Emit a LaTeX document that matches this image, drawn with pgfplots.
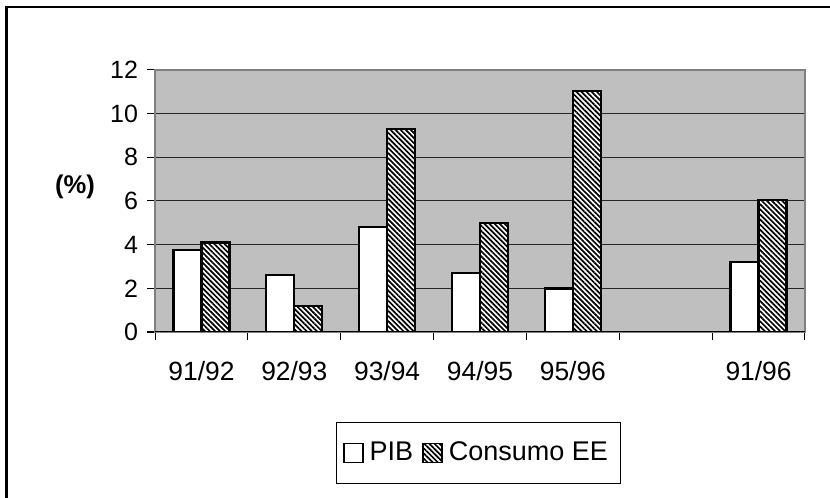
\documentclass[border=0pt]{standalone}
\usepackage{fontspec}
\setmainfont{Liberation Sans}
\usepackage{pgfplots}
\pgfplotsset{compat=1.18}
\usetikzlibrary{patterns.meta}

\newcommand\ytickfont{\fontsize{12.5pt}{14pt}\selectfont}
\newcommand\xtickfont{\fontsize{13.2pt}{15pt}\selectfont}
\newcommand\legfont{\fontsize{13.5pt}{16pt}\selectfont}
\newcommand\labfont{\bfseries\fontsize{12.8pt}{15pt}\selectfont}

% annual growth rates (%), category 5 is left empty
\pgfplotstableread{
idx pib cee
0 3.75 4.1
1 2.6 1.2
2 4.8 9.3
3 2.7 5.0
4 2.0 11.05
6 3.2 6.05
}\growth

\tikzset{
  hatchbar/.style={fill=white, postaction={pattern={Lines[angle=-45,distance=1.8pt,line width=0.85pt]}, pattern color=black}},
}

\begin{document}
\begin{tikzpicture}
\useasboundingbox (0,0) rectangle (415pt,249pt);
\begin{scope}
  \clip (0,0) rectangle (415pt,249pt);
  \draw[line width=1.3pt] (3.35pt,245.4pt) rectangle (430pt,-10pt);
\end{scope}
\node[font=\labfont] at (37.5pt,155.5pt) {(\%)};
\begin{axis}[
  at={(77.5pt,83pt)}, anchor=south west,
  scale only axis, width=325pt, height=131pt,
  ybar=0pt, bar width=14pt,
  xmin=-0.5, xmax=6.5, ymin=0, ymax=12,
  xtick={0,...,6},
  xticklabels={91/92,92/93,93/94,94/95,95/96,,91/96},
  minor xtick={-0.5,0.5,...,6.5},
  ytick={0,2,...,12},
  xtick pos=left, ytick pos=left,
  ymajorgrids,
  major grid style={black!85, line width=0.5pt},
  tick align=outside,
  major tick length=4pt, minor tick length=4pt,
  tick style={black, line width=0.5pt},
  major x tick style={draw=none},
  axis line style={draw=black!50, line width=1pt},
  axis background/.style={fill=black!25},
  /pgf/number format/assume math mode=true,
  y tick label style={font=\ytickfont, xshift=-1pt},
  x tick label style={font=\xtickfont, yshift=-7pt},
  legend columns=2,
  legend style={
    at={(0.4977,-0.462)}, anchor=center,
    draw=black, line width=0.5pt,
    font=\legfont,
    inner xsep=3.5pt, inner ysep=8pt,
    nodes={inner xsep=3pt},
    /tikz/every even column/.append style={column sep=1.5pt},
  },
  legend image code/.code={\draw[#1, line width=0.8pt] (0pt,-4.75pt) rectangle (9.5pt,4.75pt);},
]
\addplot[draw=black, line width=1.2pt, fill=white] table[x=idx, y=pib] {\growth};
\addplot[draw=black, line width=1.2pt, hatchbar] table[x=idx, y=cee] {\growth};
\legend{PIB, Consumo EE}
\draw[black, line width=0.8pt] (rel axis cs:0,0) -- (rel axis cs:1,0);
\end{axis}
\end{tikzpicture}
\end{document}
